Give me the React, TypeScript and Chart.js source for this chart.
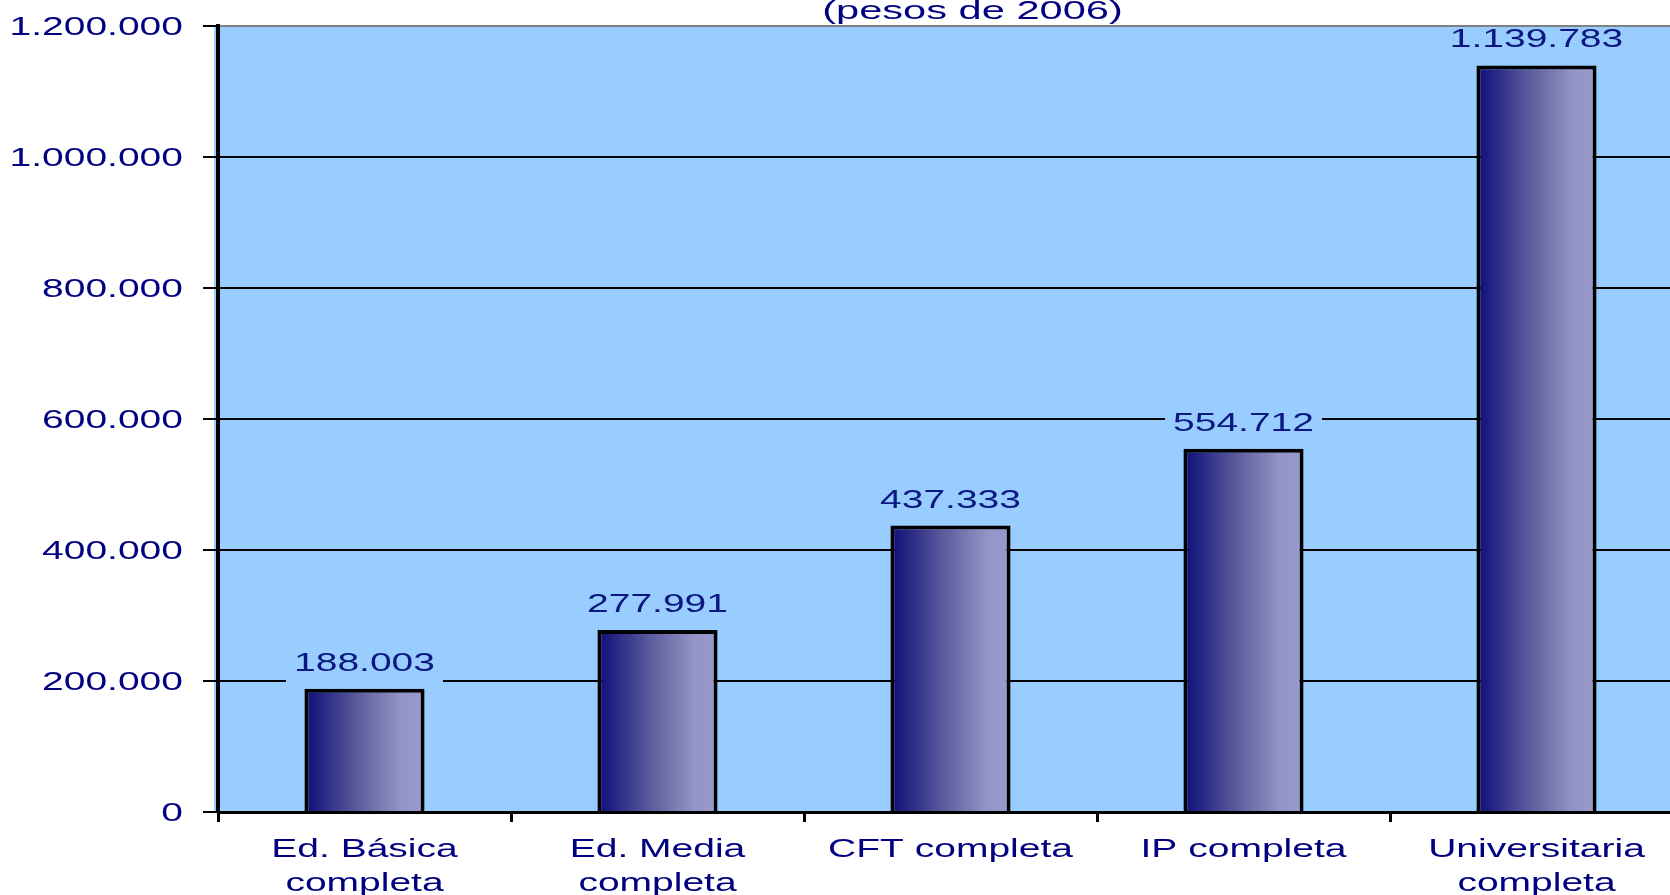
import React, { useEffect, useRef } from "react";
import { Chart, registerables } from "chart.js";

Chart.register(...registerables);

const categories: string[][] = [
  ["Ed. Básica", "completa"],
  ["Ed. Media", "completa"],
  ["CFT completa"],
  ["IP completa"],
  ["Universitaria", "completa"],
];
const values: number[] = [188003, 277991, 437333, 554712, 1139783];
const valueLabels: string[] = ["188.003", "277.991", "437.333", "554.712", "1.139.783"];
const yTickValues: number[] = [0, 200000, 400000, 600000, 800000, 1000000, 1200000];
const yTickLabels: string[] = ["0", "200.000", "400.000", "600.000", "800.000", "1.000.000", "1.200.000"];
const subtitle = "(pesos de 2006)";

const FONT = "'Liberation Sans', Arial, sans-serif";
const NAVY = "#000080";
const PLOT_BG = "#99CCFF";
const SX = 1.5;
const BAR_PCT = 0.41;

function drawStretched(
  ctx: CanvasRenderingContext2D,
  text: string,
  x: number,
  y: number,
  align: CanvasTextAlign,
  sx: number
) {
  ctx.save();
  ctx.translate(x, y);
  ctx.scale(sx, 1);
  ctx.textAlign = align;
  ctx.textBaseline = "alphabetic";
  ctx.fillText(text, 0, 0);
  ctx.restore();
}

const textPlugin = {
  id: "textPlugin",
  beforeDraw(chart: any) {
    const { ctx, chartArea } = chart;
    ctx.save();
    ctx.fillStyle = PLOT_BG;
    ctx.fillRect(chartArea.left - 4, chartArea.top, chartArea.right - chartArea.left + 4, chartArea.bottom - chartArea.top);
    ctx.restore();
  },
  afterDatasetsDraw(chart: any) {
    const { ctx, chartArea } = chart;
    const meta = chart.getDatasetMeta(0);
    ctx.save();
    ctx.font = `26px ${FONT}`;
    meta.data.forEach((bar: any, i: number) => {
      const label = valueLabels[i];
      const w = ctx.measureText(label).width * SX;
      const cy = bar.y - 27;
      const top = Math.max(cy - 22, chartArea.top + 2);
      ctx.fillStyle = PLOT_BG;
      ctx.fillRect(bar.x - w / 2 - 8, top, w + 16, cy + 22 - top);
      ctx.fillStyle = "#0a1880";
      drawStretched(ctx, label, bar.x, cy + 9, "center", SX);
    });
    ctx.restore();
  },
  afterDraw(chart: any) {
    const { ctx, chartArea, scales } = chart;
    ctx.save();
    ctx.fillStyle = NAVY;
    ctx.font = `26px ${FONT}`;
    const ys = scales.y;
    yTickValues.forEach((v, i) => {
      const py = ys.getPixelForValue(v);
      drawStretched(ctx, yTickLabels[i], chartArea.left - 35, py + 9, "right", SX);
    });
    const xs = scales.x;
    categories.forEach((lines, i) => {
      const px = xs.getPixelForValue(i);
      lines.forEach((ln, j) => {
        drawStretched(ctx, ln, px, chartArea.bottom + 45 + j * 34, "center", SX);
      });
    });
    const cx = (chartArea.left + chartArea.right) / 2 + 22;
    drawStretched(ctx, subtitle, cx, chartArea.top - 7, "center", 1.6);
    ctx.restore();
  },
};

export default function App() {
  const ref = useRef<HTMLCanvasElement | null>(null);

  useEffect(() => {
    if (!ref.current) return;
    const chart = new Chart(ref.current, {
      type: "bar",
      data: {
        labels: categories,
        datasets: [
          {
            data: values,
            backgroundColor: (c: any) => {
              const ch = c.chart;
              const xs = ch.scales && ch.scales.x;
              if (!xs || c.dataIndex == null) return "#4b4b99";
              const cx = xs.getPixelForValue(c.dataIndex);
              const half = ((xs.width / categories.length) * BAR_PCT) / 2;
              if (!isFinite(cx) || !isFinite(half) || half <= 0) return "#4b4b99";
              const g = ch.ctx.createLinearGradient(cx - half, 0, cx + half, 0);
              g.addColorStop(0, "#0c0c78");
              g.addColorStop(0.45, "#5d5d9e");
              g.addColorStop(0.8, "#9393c6");
              g.addColorStop(1, "#9a9acc");
              return g;
            },
            borderColor: "#000000",
            borderWidth: 4,
            borderSkipped: "bottom",
            barPercentage: BAR_PCT,
            categoryPercentage: 1,
          },
        ],
      },
      options: {
        responsive: false,
        animation: false,
        devicePixelRatio: 1,
        layout: { padding: { left: 203, top: 26, right: 17, bottom: 78 } },
        plugins: {
          legend: { display: false },
          tooltip: { enabled: false },
          title: { display: false },
        },
        scales: {
          x: {
            ticks: { display: false },
            grid: {
              offset: true,
              drawOnChartArea: false,
              drawTicks: true,
              tickLength: 10,
              tickColor: "#000000",
              lineWidth: 3,
            },
            border: { color: "#000000", width: 3 },
          },
          y: {
            min: 0,
            max: 1200000,
            afterBuildTicks: (scale: any) => {
              scale.ticks = yTickValues.map((v) => ({ value: v }));
            },
            ticks: { display: false },
            grid: {
              color: (c: any) => (c.tick && c.tick.value === 1200000 ? "#808080" : "#000000"),
              tickColor: "#000000",
              lineWidth: 2,
              drawTicks: true,
              tickLength: 15,
            },
            border: { color: "#000000", width: 4 },
          },
        },
      },
      plugins: [textPlugin],
    });
    return () => chart.destroy();
  }, []);

  return (
    <div
      style={{
        position: "fixed",
        left: 0,
        top: 0,
        width: 1670,
        height: 895,
        overflow: "hidden",
        background: "#ffffff",
      }}
    >
      <canvas ref={ref} width={1700} height={900} style={{ display: "block" }} />
    </div>
  );
}
